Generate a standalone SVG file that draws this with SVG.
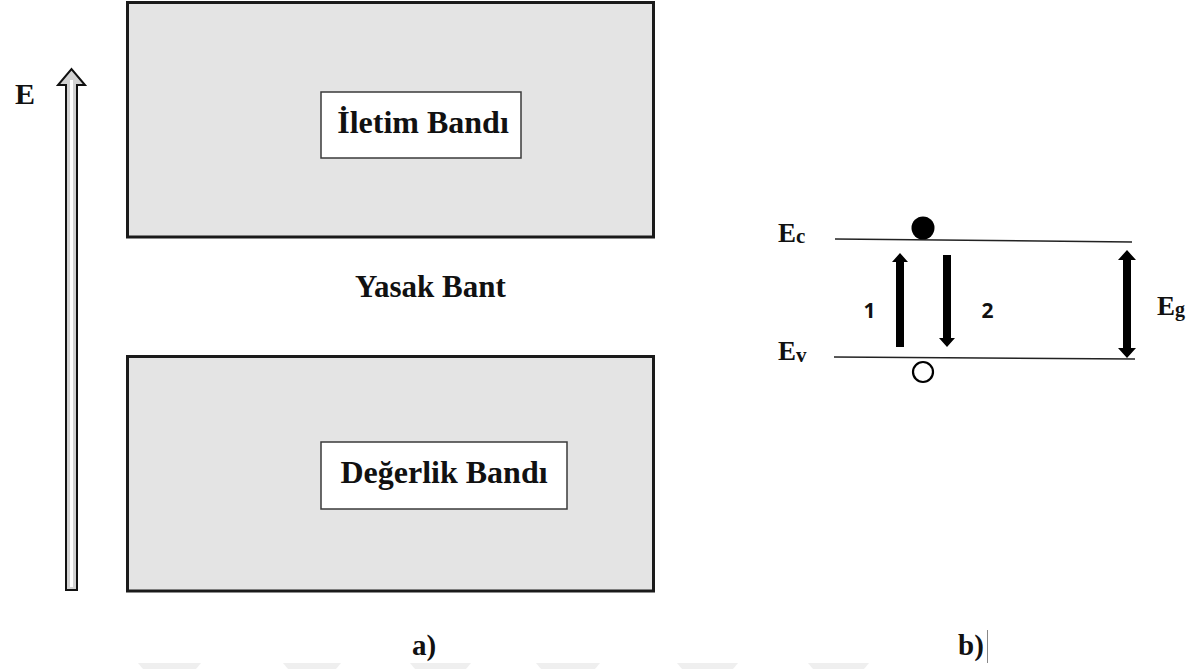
<svg xmlns="http://www.w3.org/2000/svg" width="1204" height="669" viewBox="0 0 1204 669">
  <style>
    .band { fill: #e4e4e4; stroke: #1a1a1a; stroke-width: 3; }
    .label-box { fill: #ffffff; stroke: #3a3a3a; stroke-width: 1.5; }
    .serif { font-family: "Liberation Serif", "Times New Roman", serif; font-weight: bold; fill: #111; }
    .sans { font-family: "Open Sans", "Liberation Sans", sans-serif; font-weight: bold; fill: #111; }
    .level { stroke: #222; stroke-width: 1.5; fill: none; }
    .thick { fill: #000; }
    .mark { fill: #efefef; }
  </style>

  <rect width="1204" height="669" fill="#ffffff"/>

  <!-- faint marks along the lower edge -->
  <g id="edge-marks">
    <polygon class="mark" points="138,663 201,663 196,669 143,669"/>
    <polygon class="mark" points="283,663 341,663 336,669 288,669"/>
    <polygon class="mark" points="410,663 471,663 466,669 415,669"/>
    <polygon class="mark" points="536,663 600,663 595,669 541,669"/>
    <polygon class="mark" points="677,663 738,663 733,669 682,669"/>
    <polygon class="mark" points="808,663 869,663 864,669 813,669"/>
  </g>

  <!-- (a) energy axis -->
  <g id="energy-axis">
    <polygon points="66,590 77,590 77,85 85,85 71.5,69 58,85 66,85" fill="#d2d2d2" stroke="#111" stroke-width="2"/>
    <line x1="71.5" y1="80" x2="71.5" y2="587" stroke="#ffffff" stroke-width="3"/>
    <text class="serif" x="15" y="104" font-size="30">E</text>
  </g>

  <!-- (a) conduction band -->
  <g id="conduction-band">
    <rect class="band" x="127.5" y="2.5" width="526" height="234.5"/>
    <rect class="label-box" x="321" y="92" width="200" height="66"/>
    <text class="serif" x="423" y="133" font-size="32" text-anchor="middle">İletim Bandı</text>
  </g>

  <!-- (a) forbidden gap -->
  <g id="band-gap">
    <text class="serif" x="355" y="297" font-size="31">Yasak Bant</text>
  </g>

  <!-- (a) valence band -->
  <g id="valence-band">
    <rect class="band" x="127.5" y="356.5" width="526" height="234.5"/>
    <rect class="label-box" x="321" y="442" width="246" height="67"/>
    <text class="serif" x="444" y="483" font-size="32" text-anchor="middle">Değerlik Bandı</text>
  </g>

  <!-- (b) energy levels -->
  <g id="level-ec">
    <line class="level" x1="835" y1="239" x2="1132" y2="242"/>
    <text class="serif" x="778" y="242" font-size="27">E<tspan font-size="21" dy="1">c</tspan></text>
  </g>
  <g id="level-ev">
    <line class="level" x1="834" y1="357" x2="1135" y2="359"/>
    <text class="serif" x="778" y="360" font-size="27">E<tspan font-size="21" dy="2">v</tspan></text>
  </g>

  <!-- (b) electron and hole -->
  <g id="electron">
    <circle cx="923" cy="228" r="11.5" fill="#000"/>
  </g>
  <g id="hole">
    <circle cx="923" cy="372" r="10" fill="#fff" stroke="#000" stroke-width="2.2"/>
  </g>

  <!-- (b) transitions -->
  <g id="connectors">
    <polygon class="thick" points="896,347 904,347 904,262 908,262 900,253 892,262 896,262"/>
    <polygon class="thick" points="943,255 951,255 951,338 955,338 947,347 939,338 943,338"/>
    <polygon class="thick" points="1123,260 1131,260 1131,348 1136,348 1127,358 1118,348 1123,348 1123,260 1118,260 1127,250 1136,260 1131,260"/>
  </g>

  <g id="transition-labels">
    <text class="sans" x="869.5" y="318" font-size="21" text-anchor="middle">1</text>
    <text class="sans" x="987.5" y="318" font-size="21" text-anchor="middle">2</text>
  </g>

  <g id="gap-label">
    <text class="serif" x="1157" y="315" font-size="27">E<tspan font-size="20" dy="1">g</tspan></text>
  </g>

  <!-- panel captions -->
  <g id="captions">
    <text class="serif" x="412" y="655" font-size="29">a)</text>
    <text class="serif" x="958" y="655" font-size="29">b)</text>
    <line x1="987.5" y1="630" x2="987.5" y2="663" stroke="#888" stroke-width="1"/>
  </g>
</svg>
